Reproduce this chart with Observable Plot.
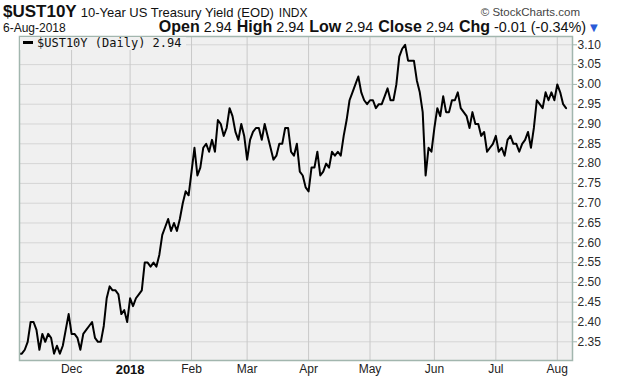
<!DOCTYPE html>
<html><head><meta charset="utf-8">
<script src="https://cdn.jsdelivr.net/npm/d3@7"></script>
<script src="https://cdn.jsdelivr.net/npm/@observablehq/plot@0.6"></script>
<style>
html,body{margin:0;padding:0;background:#fff;}
#wrap{position:relative;width:620px;height:379px;overflow:hidden;font-family:"Liberation Sans",Arial,sans-serif;}
#chart{position:absolute;left:0;top:0;}
#hdr{position:absolute;left:0;top:0;}
#legend{position:absolute;left:20px;top:37px;width:166px;height:13px;background:#f0f0f0;
  font-family:"DejaVu Sans Mono",monospace;font-size:12px;line-height:13px;color:#111;white-space:nowrap;}
#legend .dash{display:inline-block;width:10px;height:3px;background:#000;vertical-align:middle;margin:0 4px 2px 3px;}
</style></head><body>
<div id="wrap">
  <div id="chart"></div>
  <svg id="hdr" width="620" height="36"></svg>
  <div id="legend"><span class="dash"></span><span id="legtext"></span></div>
</div>
<script>
// ---- data: trading days and closing yields (%) ----
const monthKeys = ["2017-11","2017-12","2018-01","2018-02","2018-03","2018-04","2018-05","2018-06","2018-07","2018-08"];
const novDays=[6,7,8,9,10,13,14,15,16,17,20,21,22,24,27,28,29,30];
const novYield=[2.32,2.32,2.33,2.35,2.40,2.40,2.38,2.33,2.37,2.35,2.37,2.36,2.32,2.34,2.32,2.34,2.38,2.42];
const decDays=[1,4,5,6,7,8,11,12,13,14,15,18,19,20,21,22,26,27,28,29];
const decYield=[2.37,2.37,2.36,2.33,2.37,2.38,2.39,2.40,2.36,2.35,2.35,2.39,2.46,2.49,2.48,2.48,2.47,2.42,2.43,2.40];
const janDays=[2,3,4,5,8,9,10,11,12,16,17,18,19,22,23,24,25,26,29,30,31];
const janYield=[2.46,2.44,2.46,2.47,2.48,2.55,2.55,2.54,2.55,2.54,2.57,2.62,2.64,2.66,2.63,2.65,2.63,2.66,2.70,2.73,2.72];
const febDays=[1,2,5,6,7,8,9,12,13,14,15,16,20,21,22,23,26,27,28];
const febYield=[2.78,2.84,2.77,2.79,2.84,2.85,2.83,2.86,2.83,2.91,2.90,2.87,2.89,2.94,2.92,2.88,2.86,2.90,2.87];
const marDays=[1,2,5,6,7,8,9,12,13,14,15,16,19,20,21,22,23,26,27,28,29];
const marYield=[2.81,2.86,2.88,2.89,2.89,2.86,2.90,2.87,2.84,2.81,2.82,2.85,2.85,2.89,2.89,2.83,2.82,2.85,2.78,2.77,2.74];
const aprDays=[2,3,4,5,6,9,10,11,12,13,16,17,18,19,20,23,24,25,26,27,30];
const aprYield=[2.73,2.79,2.79,2.83,2.77,2.78,2.80,2.79,2.83,2.82,2.83,2.82,2.87,2.91,2.96,2.98,3.00,3.02,2.98,2.96,2.95];
const mayDays=[1,2,3,4,7,8,9,10,11,14,15,16,17,18,21,22,23,24,25,29,30,31];
const mayYield=[2.96,2.96,2.94,2.95,2.95,2.97,2.99,2.96,2.96,3.00,3.07,3.09,3.10,3.06,3.06,3.06,3.01,2.98,2.93,2.77,2.84,2.83];
const junDays=[1,4,5,6,7,8,11,12,13,14,15,18,19,20,21,22,25,26,27,28,29];
const junYield=[2.89,2.94,2.92,2.97,2.93,2.93,2.96,2.96,2.98,2.94,2.93,2.92,2.89,2.93,2.90,2.90,2.87,2.88,2.83,2.84,2.85];
const julDays=[2,3,5,6,9,10,11,12,13,16,17,18,19,20,23,24,25,26,27,30,31];
const julYield=[2.87,2.83,2.84,2.82,2.86,2.87,2.85,2.85,2.83,2.85,2.86,2.88,2.84,2.89,2.96,2.95,2.94,2.98,2.96,2.98,2.96];
const augDays=[1,2,3,6];
const augYield=[3.00,2.98,2.95,2.94];

const monthTickLabels=["Dec","2018","Feb","Mar","Apr","May","Jun","Jul","Aug"];
const yTicks=[2.35,2.40,2.45,2.50,2.55,2.60,2.65,2.70,2.75,2.80,2.85,2.90,2.95,3.00,3.05,3.10];

// ---- build table ----
const dayLists=[novDays,decDays,janDays,febDays,marDays,aprDays,mayDays,junDays,julDays,augDays];
const yieldLists=[novYield,decYield,janYield,febYield,marYield,aprYield,mayYield,junYield,julYield,augYield];
const rows=[]; const monthStart=[];
monthKeys.forEach((k,m)=>{
  const [yr,mo]=k.split("-").map(Number);
  dayLists[m].forEach((d,j)=>{
    if(j===0) monthStart.push(rows.length);
    rows.push({date:new Date(yr,mo-1,d), i:rows.length, y:yieldLists[m][j]});
  });
});
const tickPos=monthStart.slice(1); // Dec .. Aug
const labelOf=new Map(tickPos.map((p,k)=>[p,monthTickLabels[k]]));
const boldPos=tickPos.filter(p=>labelOf.get(p)==="2018");
const normPos=tickPos.filter(p=>labelOf.get(p)!=="2018");

const frameColor="#a2b6ae";
const chart=Plot.plot({
  width:620,height:379,
  marginTop:36,marginBottom:19,marginLeft:19,marginRight:48,
  style:{fontFamily:'"Liberation Sans", Arial, sans-serif',fontSize:"12px",background:"transparent",color:"#222",overflow:"visible"},
  x:{type:"linear",domain:[0.2,189.2],label:null},
  y:{domain:[2.3028,3.121],label:null},
  marks:[
    Plot.frame({fill:"#f0f0f0",stroke:null}),
    Plot.gridY(yTicks,{stroke:"#d5d5d5",strokeOpacity:1}),
    Plot.gridX(tickPos,{stroke:"#c9c9c9",strokeOpacity:1}),
    Plot.lineY(rows,{x:"i",y:"y",stroke:"#000",strokeWidth:2,clip:true}),
    Plot.frame({stroke:frameColor,strokeWidth:1.5}),
    Plot.axisY(yTicks,{anchor:"right",tickFormat:d=>d.toFixed(2),tickSize:4,tickPadding:1,stroke:frameColor,fill:"#2a2a2a",fontSize:12,label:null}),
    Plot.axisX(normPos,{anchor:"bottom",tickFormat:p=>labelOf.get(p),tickSize:0,tickPadding:4,fill:"#222",fontSize:12,label:null}),
    Plot.axisX(boldPos,{anchor:"bottom",tickFormat:p=>labelOf.get(p),tickSize:0,tickPadding:4,fill:"#111",fontSize:13,fontWeight:"bold",label:null})
  ]
});
document.getElementById("chart").appendChild(chart);

// ---- header / legend text from data ----
const last=rows[rows.length-1], prev=rows[rows.length-2];
const chg=last.y-prev.y, pct=chg/prev.y*100;
const f2=v=>v.toFixed(2);
document.getElementById("legtext").textContent="$UST10Y (Daily) "+f2(last.y);

const hdr=d3.select("#hdr").attr("font-family",'"Liberation Sans", Arial, sans-serif').attr("fill","#111");
const t1=hdr.append("text").attr("x",3).attr("y",17);
t1.append("tspan").attr("font-weight","bold").attr("font-size",17).text("$UST10Y");
t1.append("tspan").attr("font-size",13).attr("dx",4).text("10-Year US Treasury Yield (EOD)");
t1.append("tspan").attr("font-size",12).attr("dx",5).text("INDX");
hdr.append("text").attr("x",580).attr("y",16).attr("text-anchor","end").attr("font-size",11.5).attr("fill","#444").text("\u00A9 StockCharts.com");
hdr.append("text").attr("x",3).attr("y",32).attr("font-size",12).text(last.date.getDate()+"-Aug-"+last.date.getFullYear());
const t2=hdr.append("text").attr("x",586).attr("y",32).attr("text-anchor","end");
const parts=[["Open",f2(last.y)],["High",f2(last.y)],["Low",f2(last.y)],["Close",f2(last.y)],["Chg",f2(chg)+" ("+f2(pct)+"%)"]];
parts.forEach(([k,v],n)=>{
  t2.append("tspan").attr("font-weight","bold").attr("font-size",16).attr("dx",n?5:0).text(k);
  t2.append("tspan").attr("font-size",14.4).attr("dx",4).text(v);
});
hdr.append("text").attr("x",590).attr("y",31).attr("font-size",10).attr("fill","#2a5bd7").attr("font-family","DejaVu Sans").text("\u25BC");
</script>
</body></html>
